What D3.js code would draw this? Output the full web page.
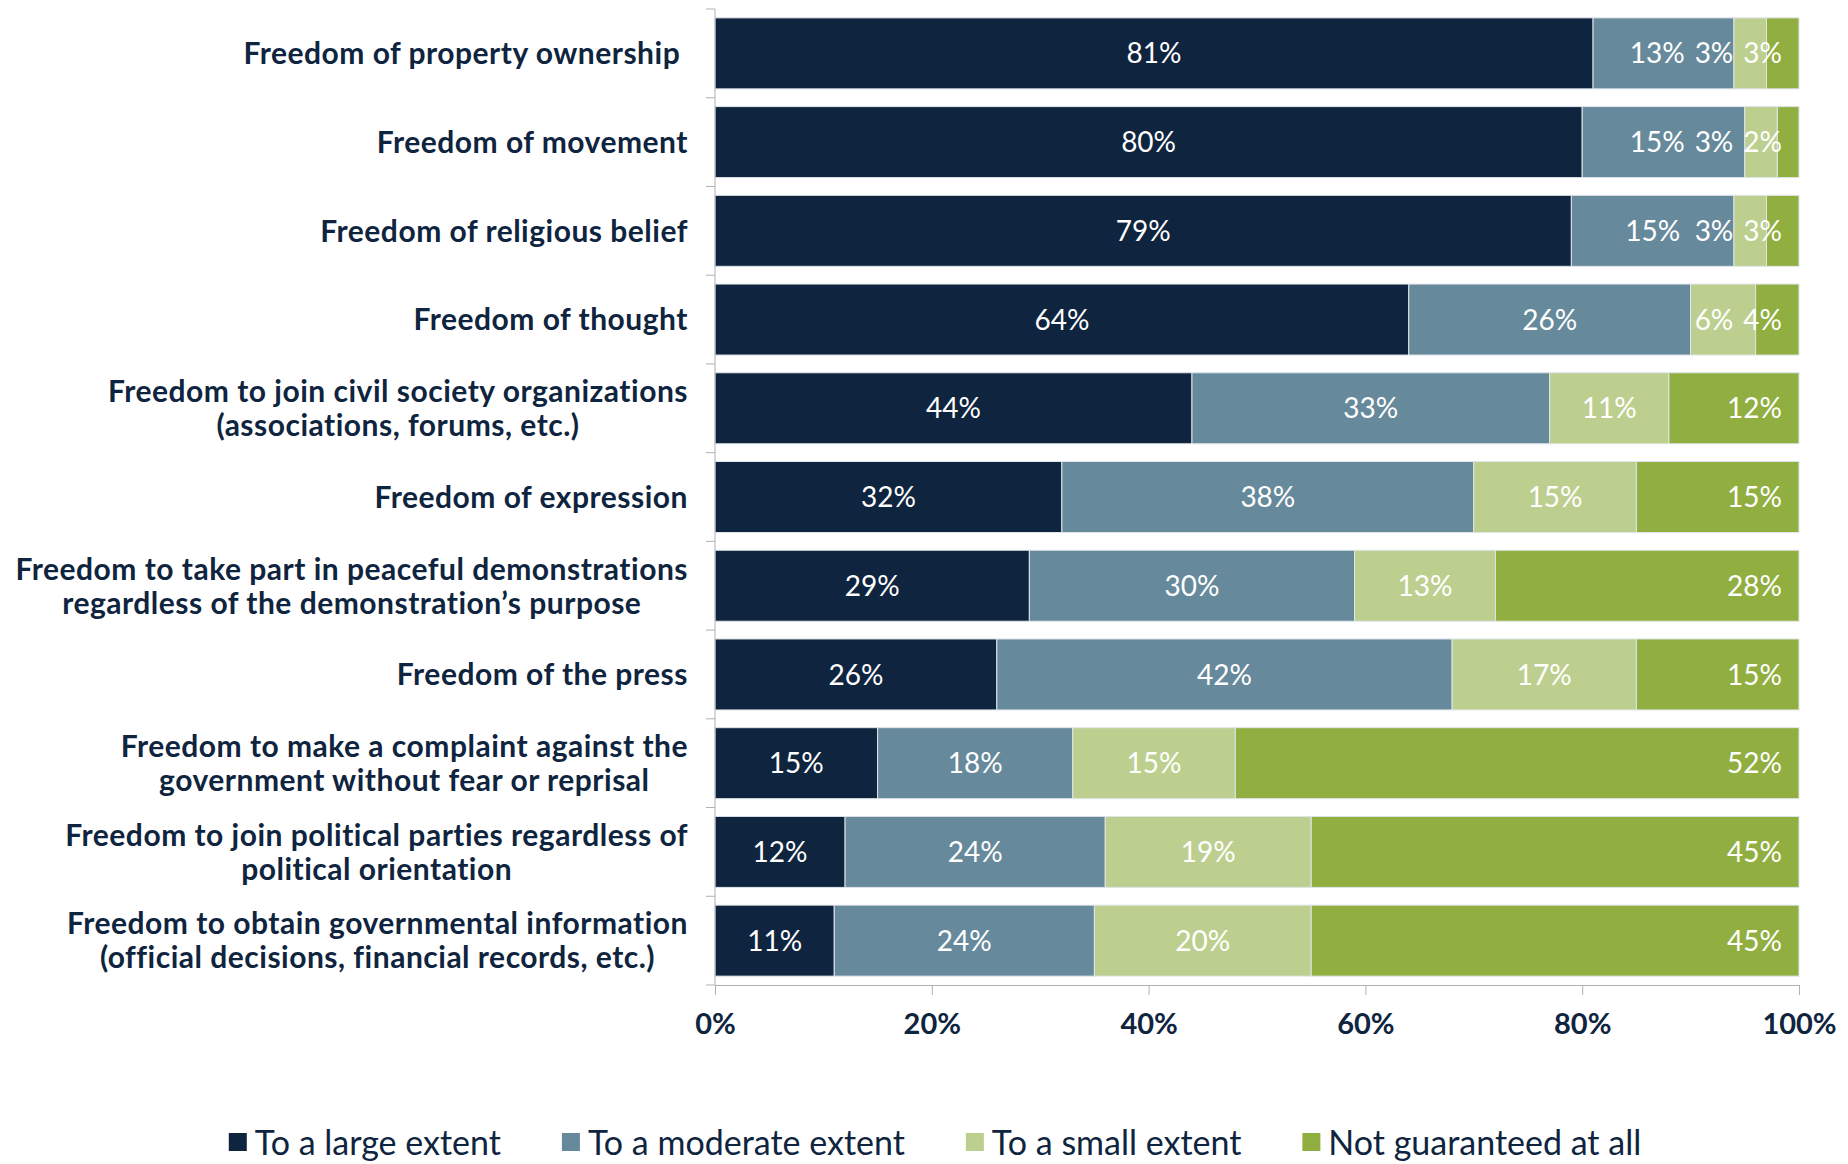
<!DOCTYPE html>
<html>
  <head>
    <meta charset="utf-8">
    <title>Freedoms</title>
    <script src="https://d3js.org/d3.v7.min.js"></script>
    <style>
      body { margin: 0; background: #fff; }
      text { font-family: Lato, "Open Sans", sans-serif; }
    </style>
  </head>

  <body>
    <div class="chart"></div>

    <script>
      // rows top to bottom, multi-line labels split on "|"
      var categories = [
        "Freedom of property ownership ",
        "Freedom of movement",
        "Freedom of religious belief",
        "Freedom of thought",
        "Freedom to join civil society organizations|(associations, forums, etc.)",
        "Freedom of expression",
        "Freedom to take part in peaceful demonstrations|regardless of the demonstration\u2019s purpose",
        "Freedom of the press",
        "Freedom to make a complaint against the|government without fear or reprisal",
        "Freedom to join political parties regardless of|political orientation",
        "Freedom to obtain governmental information|(official decisions, financial records, etc.)"
      ];
      var seriesNames = ["To a large extent", "To a moderate extent", "To a small extent", "Not guaranteed at all"];
      var largeExtent    = [81, 80, 79, 64, 44, 32, 29, 26, 15, 12, 11];
      var moderateExtent = [13, 15, 15, 26, 33, 38, 30, 42, 18, 24, 24];
      var smallExtent    = [3, 3, 3, 6, 11, 15, 13, 17, 15, 19, 20];
      var notGuaranteed  = [3, 2, 3, 4, 12, 15, 28, 15, 52, 45, 45];
      var xTicks = [0, 0.2, 0.4, 0.6, 0.8, 1];
      var colors = ["#0f243e", "#67899c", "#bdcf8f", "#91ae40"];

      var W = 1848, H = 1164;
      var plotL = 715, plotR = 1799, plotT = 9, plotB = 985;
      var navy = "#0f243e";

      var svg = d3.select("div.chart").append("svg")
        .attr("width", W)
        .attr("height", H);

      var series = [largeExtent, moderateExtent, smallExtent, notGuaranteed];
      var rows = categories.map(function (c, i) {
        var r = { cat: c };
        seriesNames.forEach(function (s, k) { r[s] = series[k][i] / 100; });
        return r;
      });
      var stacked = d3.stack().keys(seriesNames)(rows);

      var x = d3.scaleLinear().domain([0, 1]).range([plotL, plotR]);
      var y = d3.scaleBand().domain(categories).range([plotT, plotB])
        .paddingInner(0.2).paddingOuter(0.1);

      // bars
      var layer = svg.append("g").selectAll("g")
        .data(stacked)
        .enter().append("g")
        .attr("fill", function (d, k) { return colors[k]; });

      layer.selectAll("rect")
        .data(function (d) { return d; })
        .enter().append("rect")
        .attr("x", function (d) { return x(d[0]); })
        .attr("y", function (d) { return y(d.data.cat); })
        .attr("width", function (d) { return x(d[1]) - x(d[0]); })
        .attr("height", y.bandwidth())
        .attr("stroke", "#dfe5ea")
        .attr("stroke-width", 1);

      // data labels: centred, last series at the inside end, nudged left on collision
      svg.append("clipPath").attr("id", "plotclip")
        .append("rect").attr("x", plotL).attr("y", 0).attr("width", plotR - plotL + 3).attr("height", plotB);
      var labelG = svg.append("g").attr("clip-path", "url(#plotclip)");

      rows.forEach(function (r, i) {
        var labs = stacked.map(function (s, k) {
          var seg = s[i];
          var t = labelG.append("text")
            .attr("y", y(r.cat) + y.bandwidth() / 2)
            .attr("dy", "0.36em")
            .attr("text-anchor", "middle")
            .attr("fill", "#fff")
            .style("font-size", "28px")
            .text(d3.format(".0%")(seg[1] - seg[0]));
          var w = t.node().getComputedTextLength();
          var cx = (x(seg[0]) + x(seg[1])) / 2;
          if (k === stacked.length - 1) cx = x(seg[1]) - 17 - w / 2;
          return { t: t, cx: cx, w: w };
        });
        var limit = plotR - 17;
        for (var k = labs.length - 1; k >= 0; k--) {
          var L = labs[k];
          if (L.cx + L.w / 2 > limit) L.cx = limit - L.w / 2;
          limit = L.cx - L.w / 2 - 10;
          L.t.attr("x", L.cx);
        }
      });

      // y axis line + ticks at band boundaries
      svg.append("line")
        .attr("x1", plotL).attr("x2", plotL)
        .attr("y1", plotT).attr("y2", plotB)
        .attr("stroke", "#b0b0b0");
      var step = y.step();
      svg.append("g").selectAll("line")
        .data(d3.range(categories.length + 1))
        .enter().append("line")
        .attr("x1", plotL - 9).attr("x2", plotL)
        .attr("y1", function (i) { return plotT + i * step; })
        .attr("y2", function (i) { return plotT + i * step; })
        .attr("stroke", "#b0b0b0");

      // category labels: block right aligned, lines centred
      var catG = svg.append("g");
      categories.forEach(function (c) {
        var lines = c.split("|");
        var t = catG.append("text")
          .attr("fill", navy)
          .attr("text-anchor", "middle")
          .style("font-size", "30px")
          .style("font-weight", "bold")
          .style("letter-spacing", "0.5px")
          .style("white-space", "pre");
        var lh = 34;
        var y0 = y(c) + y.bandwidth() / 2 - (lines.length - 1) * lh / 2;
        lines.forEach(function (ln, j) {
          t.append("tspan").attr("y", y0 + j * lh).attr("dy", "0.36em").text(ln);
        });
        var maxW = 0;
        t.selectAll("tspan").each(function () {
          maxW = Math.max(maxW, this.getComputedTextLength());
        });
        t.selectAll("tspan").attr("x", 688 - maxW / 2);
      });

      // x axis
      var xAxis = svg.append("g")
        .attr("transform", "translate(0," + plotB + ")")
        .call(d3.axisBottom(x).tickValues(xTicks).tickFormat(d3.format(".0%"))
          .tickSizeInner(10).tickSizeOuter(0).tickPadding(18));
      xAxis.select(".domain").attr("stroke", "#b0b0b0");
      xAxis.selectAll(".tick line").attr("stroke", "#b0b0b0");
      xAxis.selectAll(".tick text")
        .attr("fill", navy)
        .style("font-family", "Lato, sans-serif")
        .style("font-size", "29px")
        .style("font-weight", "bold");

      // legend
      var legend = svg.append("g");
      var items = seriesNames.map(function (s, k) {
        var g = legend.append("g");
        g.append("rect").attr("width", 18).attr("height", 18).attr("y", -10).attr("fill", colors[k]);
        var t = g.append("text").attr("x", 26).attr("dy", "0.36em")
          .attr("fill", navy).style("font-size", "34px").text(s);
        return { g: g, w: 26 + t.node().getComputedTextLength() };
      });
      var gap = 61;
      var total = d3.sum(items, function (d) { return d.w; }) + gap * (items.length - 1);
      var lx = 935 - total / 2;
      items.forEach(function (it) {
        it.g.attr("transform", "translate(" + lx + ",1143)");
        lx += it.w + gap;
      });
    </script>

  </body>
</html>
